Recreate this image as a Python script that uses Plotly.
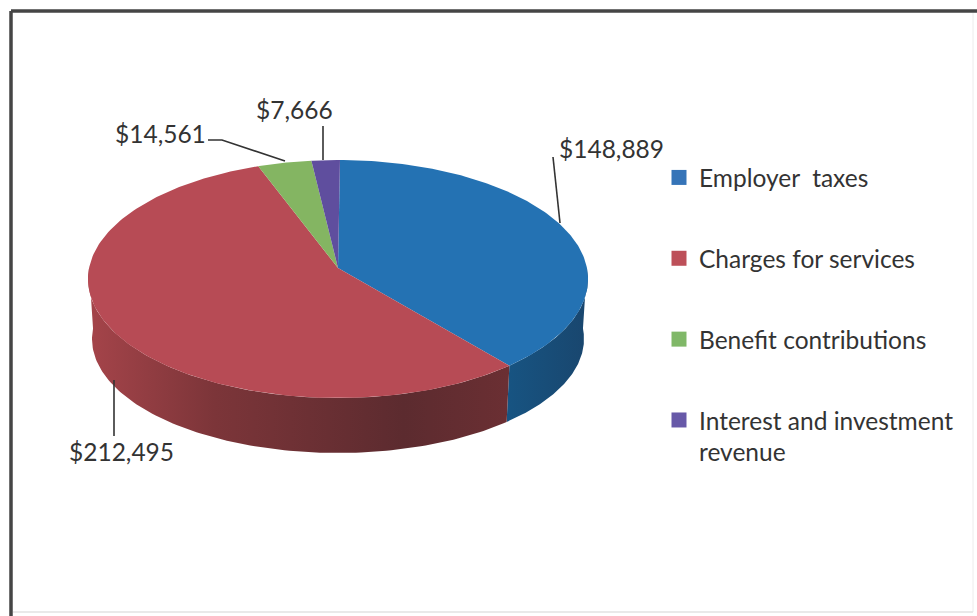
import numpy as np
import plotly.graph_objects as go

# Revenue by source
categories = ["Employer  taxes", "Charges for services", "Benefit contributions",
              "Interest and investment"]
category_overflow = "revenue"
values = [148889, 212495, 14561, 7666]
top_colors = ["#2472b3", "#b74b55", "#84b562", "#5f4e9e"]
legend_colors = ["#3574b8", "#bd5059", "#80b868", "#6759a8"]
side_scales = [
    [[0, "#175482"], [1, "#19466e"]],
    [[0, "#a5444a"], [0.3, "#7c3539"], [0.75, "#5c2b2f"], [1, "#6b2f33"]],
]
FONT = "Lato"
TEXT = "#333333"

# Projection of the pie disc: rim ellipses in page pixels, plus a shift of the
# hub towards the far edge so straight slice edges stay straight in perspective.
CX, CY, A, B = 338.0, 279.0, 250.0, 119.0
BX, BY, BA, BB = 338.0, 339.0, 246.0, 114.0
SKEW = 0.092
START_DEG = 89.5


def rim(theta, cx, cy, a, b):
    u, v = np.cos(theta), np.sin(theta)
    d = 1 + SKEW * v
    return cx + a * u * np.sqrt(1 - SKEW**2) / d, cy - b * (v + SKEW) / d


shares = np.array(values, dtype=float) / sum(values) * 2 * np.pi
stops = np.radians(START_DEG) - np.concatenate([[0], np.cumsum(shares)])
hub_x, hub_y = CX, CY - B * SKEW

fig = go.Figure()

# Outer wall, only the part facing the viewer
for i in range(len(values)):
    hi = stops[i]
    lo = stops[i + 1]
    t0, t1 = min(hi, 0.0), max(lo, -np.pi)
    if t0 <= t1:
        continue
    t = np.linspace(t0, t1, 120)
    xt, yt = rim(t, CX, CY, A, B)
    xb, yb = rim(t, BX, BY, BA, BB)
    fig.add_trace(go.Scatter(
        x=np.concatenate([xt, xb[::-1]]), y=np.concatenate([yt, yb[::-1]]),
        mode="lines", line=dict(width=0), fill="toself", hoverinfo="skip", showlegend=False,
        fillgradient=dict(type="horizontal", colorscale=side_scales[i]),
    ))

# Top face slices
for i in range(len(values)):
    t = np.linspace(stops[i], stops[i + 1], 160)
    xt, yt = rim(t, CX, CY, A, B)
    fig.add_trace(go.Scatter(
        x=np.concatenate([[hub_x], xt, [hub_x]]), y=np.concatenate([[hub_y], yt, [hub_y]]),
        mode="lines", line=dict(width=0), fill="toself", fillcolor=top_colors[i],
        hoverinfo="skip", showlegend=False,
    ))

# Legend entries
for i, name in enumerate(categories):
    fig.add_trace(go.Scatter(
        x=[None], y=[None], mode="markers", name=name, legendgroup=name,
        marker=dict(symbol="square", size=15, color=legend_colors[i]),
    ))

# Data labels and their leader lines
label_pos = [(611, 148), (121, 451), (160, 133), (294, 109)]
leaders = [
    [(553, 157), (560, 223)],
    [(114, 380), (114, 436)],
    [(208, 140), (222, 140), (285, 161)],
    [(323, 126), (323, 160)],
]
for v, (px, py) in zip(values, label_pos):
    fig.add_annotation(x=px, y=py, xref="x", yref="y", text=f"${v:,}", showarrow=False,
                       font=dict(family=FONT, size=24.5, color=TEXT))

# Second line of the last legend entry, kept apart so its swatch sits on the first line
fig.add_annotation(x=697, y=451, xref="x", yref="y", xanchor="left", text=category_overflow,
                   showarrow=False, font=dict(family=FONT, size=24.5, color=TEXT))

shapes = []
for path in leaders:
    d = "M" + " L".join(f"{x},{y}" for x, y in path)
    shapes.append(dict(type="path", path=d, xref="x", yref="y",
                       line=dict(color="#333333", width=1.6)))

# Chart frame: heavy top and left rules, faint right and bottom rules
for x0, y0, x1, y1, colour, w in [
    (11, 11, 977, 11, "#454545", 3.5),
    (11, 11, 11, 616, "#454545", 3.5),
    (973, 13, 973, 612, "#ececec", 1),
    (13, 612, 973, 612, "#e2e2e2", 1.5),
]:
    shapes.append(dict(type="line", xref="x", yref="y", x0=x0, y0=y0, x1=x1, y1=y1,
                       line=dict(color=colour, width=w), layer="below"))

fig.update_layout(
    width=977, height=616, margin=dict(l=0, r=0, t=0, b=0),
    paper_bgcolor="#ffffff", plot_bgcolor="#ffffff",
    xaxis=dict(range=[0, 977], visible=False, fixedrange=True),
    yaxis=dict(range=[616, 0], visible=False, fixedrange=True),
    shapes=shapes, showlegend=True,
    legend=dict(x=659 / 977, y=1 - 155 / 616, xanchor="left", yanchor="top",
                bgcolor="rgba(0,0,0,0)", tracegroupgap=46, itemwidth=30,
                font=dict(family=FONT, size=24.5, color=TEXT)),
)
fig.write_html("out.html")
